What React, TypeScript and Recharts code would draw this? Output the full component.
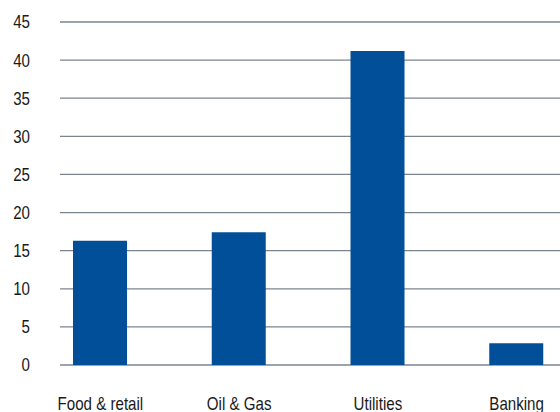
import React from "react";
import { BarChart, Bar, XAxis, YAxis, CartesianGrid } from "recharts";

const categories = ["Food & retail", "Oil & Gas", "Utilities", "Banking"];
const values = [16.3, 17.4, 41.2, 2.85];
const yTicks = [0, 5, 10, 15, 20, 25, 30, 35, 40, 45];

const data = categories.map((name, i) => ({ name, value: values[i] }));

const FONT = "'Liberation Sans', Arial, sans-serif";
const SQUEEZE = 0.84;

function XTick(props: any) {
  const { x, y, payload } = props;
  return (
    <g transform={`translate(${x},${y})`}>
      <text
        transform={`scale(${SQUEEZE},1)`}
        textAnchor="middle"
        dy="0.71em"
        fill="#1a1a1a"
        fontSize={18}
        fontFamily={FONT}
      >
        {payload.value}
      </text>
    </g>
  );
}

function YTick(props: any) {
  const { x, y, payload } = props;
  return (
    <g transform={`translate(${x},${y})`}>
      <text
        transform={`scale(${SQUEEZE},1)`}
        textAnchor="end"
        dy="0.355em"
        fill="#1a1a1a"
        fontSize={18}
        fontFamily={FONT}
      >
        {payload.value}
      </text>
    </g>
  );
}

export default function App() {
  return (
    <div style={{ position: "relative", width: 560, height: 412, overflow: "hidden", background: "#fff" }}>
      <style>{"body{margin:0;}"}</style>
      <BarChart
        width={586}
        height={412}
        data={data}
        margin={{ top: 22, right: 0, bottom: 0, left: 0 }}
        barCategoryGap={0}
      >
        <CartesianGrid
          vertical={false}
          horizontal={true}
          x={60}
          width={500}
          stroke="#7b8592"
          strokeWidth={1.3}
        />
        <XAxis
          dataKey="name"
          axisLine={false}
          tickLine={false}
          height={47}
          tickSize={6}
          tickMargin={26}
          interval={0}
          tick={<XTick />}
        />
        <YAxis
          width={31}
          domain={[0, 45]}
          ticks={yTicks}
          axisLine={false}
          tickLine={false}
          tickSize={0}
          tickMargin={1}
          interval={0}
          tick={<YTick />}
        />
        <Bar dataKey="value" fill="#004f98" barSize={54} isAnimationActive={false} />
      </BarChart>
    </div>
  );
}
